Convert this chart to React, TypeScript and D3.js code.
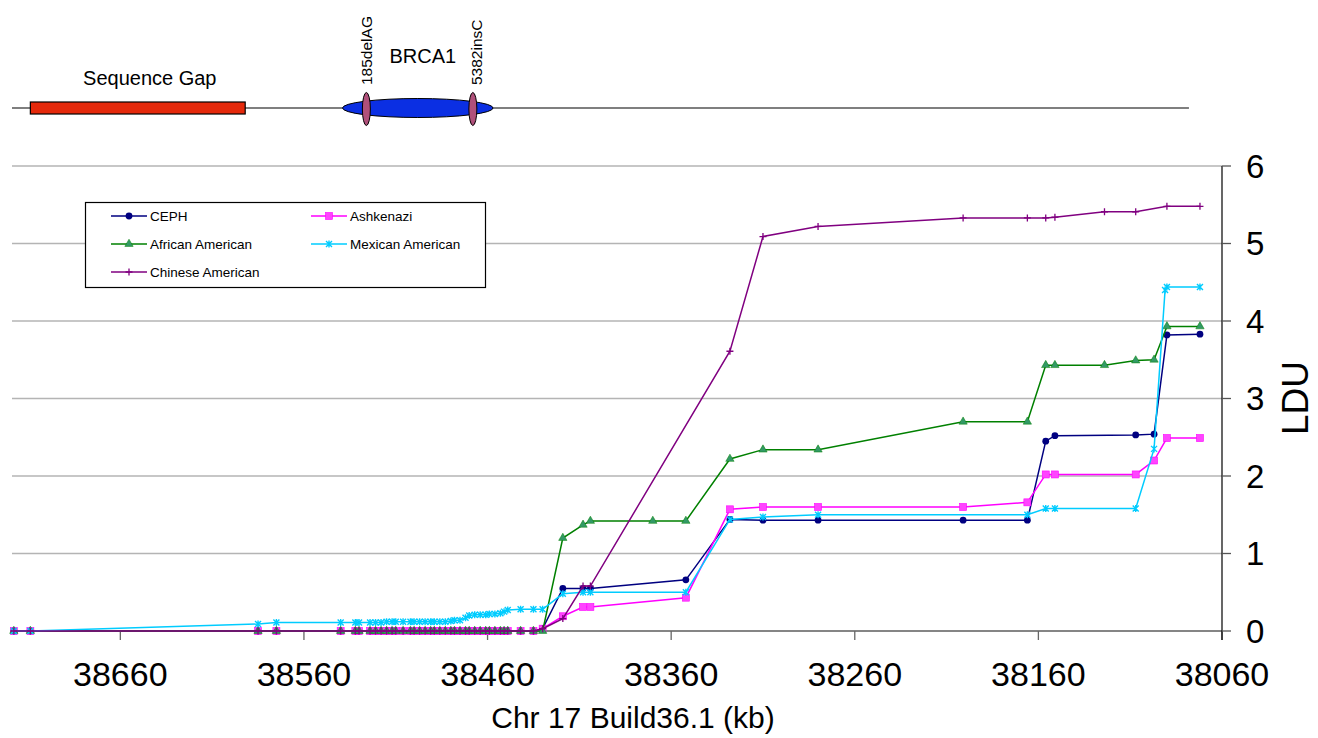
import * as d3 from 'd3';
import { useMemo } from 'react';

const WIDTH = 1318;
const HEIGHT = 738;
const PLOT = { left: 12, right: 1222, top: 166, bottom: 631 };
const FONT = '"Liberation Sans", Arial, Helvetica, sans-serif';

// x axis (kb, reversed) and y axis ticks
const xTicks = [38660, 38560, 38460, 38360, 38260, 38160, 38060];
const yTicks = [0, 1, 2, 3, 4, 5, 6];

// marker positions shared by all populations across the gap / BRCA1 region
const baseKb = [38718, 38709, 38585, 38575, 38540, 38532, 38530, 38524, 38521, 38518, 38515, 38512,
  38510, 38506, 38502, 38500, 38497, 38494, 38491, 38489, 38486, 38483, 38480, 38478, 38475, 38472,
  38470, 38467, 38464, 38461, 38459, 38456, 38453, 38451, 38449, 38442, 38435];
const flatLdu = [0, 0, 0, 0, 0, 0, 0, 0, 0, 0, 0, 0, 0, 0, 0, 0, 0, 0, 0, 0, 0, 0, 0, 0, 0, 0,
  0, 0, 0, 0, 0, 0, 0, 0, 0, 0, 0];
const mexicanBaseLdu = [0, 0, 0.09, 0.11, 0.11, 0.11, 0.11, 0.11, 0.11, 0.11, 0.12, 0.12,
  0.12, 0.12, 0.12, 0.12, 0.12, 0.12, 0.12, 0.12, 0.12, 0.12, 0.13, 0.14, 0.14, 0.17,
  0.20, 0.21, 0.21, 0.21, 0.22, 0.22, 0.23, 0.25, 0.27, 0.28, 0.28];

// per population, distal part
const cephKb = [38430, 38419, 38408, 38404, 38352, 38328, 38310, 38280, 38201, 38166, 38156, 38151, 38107, 38097, 38090, 38072];
const cephLdu = [0.03, 0.55, 0.55, 0.55, 0.66, 1.44, 1.43, 1.43, 1.43, 1.43, 2.45, 2.52, 2.53, 2.54, 3.82, 3.83];

const ashkenaziKb = [38430, 38419, 38408, 38404, 38352, 38328, 38310, 38280, 38201, 38166, 38156, 38151, 38107, 38097, 38090, 38072];
const ashkenaziLdu = [0.03, 0.19, 0.31, 0.31, 0.43, 1.57, 1.60, 1.60, 1.60, 1.66, 2.02, 2.02, 2.02, 2.20, 2.49, 2.49];

const africanKb = [38430, 38419, 38408, 38404, 38370, 38352, 38328, 38310, 38280, 38201, 38166, 38156, 38151, 38124, 38107, 38097, 38090, 38072];
const africanLdu = [0, 1.20, 1.37, 1.42, 1.42, 1.42, 2.22, 2.34, 2.34, 2.70, 2.70, 3.43, 3.43, 3.43, 3.49, 3.50, 3.93, 3.93];

const mexicanKb = [38430, 38419, 38408, 38404, 38352, 38328, 38310, 38280, 38166, 38156, 38151, 38107, 38097, 38091, 38090, 38072];
const mexicanLdu = [0.28, 0.48, 0.50, 0.50, 0.50, 1.44, 1.47, 1.50, 1.50, 1.58, 1.58, 1.58, 2.35, 4.40, 4.44, 4.44];

const chineseKb = [38430, 38419, 38408, 38404, 38328, 38310, 38280, 38201, 38166, 38156, 38151, 38124, 38107, 38090, 38072];
const chineseLdu = [0.03, 0.16, 0.58, 0.58, 3.61, 5.09, 5.22, 5.33, 5.33, 5.33, 5.34, 5.41, 5.41, 5.48, 5.48];

// gene map above the chart (kb)
const mapLineKb = [38719, 38078];
const sequenceGapKb = [38709, 38592];
const brca1Kb = [38539, 38457];
const mutationNames = ['185delAG', '5382insC'];
const mutationKb = [38526, 38468];

type Marker = 'circle' | 'square' | 'triangle' | 'star' | 'plus';
type Series = { name: string; kb: number[]; ldu: number[]; color: string; fill: string; marker: Marker };

const SERIES: Series[] = [
  { name: 'CEPH', kb: [...baseKb, ...cephKb], ldu: [...flatLdu, ...cephLdu], color: '#000080', fill: '#000080', marker: 'circle' },
  { name: 'Ashkenazi', kb: [...baseKb, ...ashkenaziKb], ldu: [...flatLdu, ...ashkenaziLdu], color: '#FF00FF', fill: '#FF44FF', marker: 'square' },
  { name: 'African American', kb: [...baseKb, ...africanKb], ldu: [...flatLdu, ...africanLdu], color: '#008000', fill: '#339966', marker: 'triangle' },
  { name: 'Mexican American', kb: [...baseKb, ...mexicanKb], ldu: [...mexicanBaseLdu, ...mexicanLdu], color: '#00CCFF', fill: '#00CCFF', marker: 'star' },
  { name: 'Chinese American', kb: [...baseKb, ...chineseKb], ldu: [...flatLdu, ...chineseLdu], color: '#800080', fill: '#800080', marker: 'plus' },
];

const LEGEND_POS = [
  { x: 111, y: 216 },
  { x: 311, y: 216 },
  { x: 111, y: 244 },
  { x: 311, y: 244 },
  { x: 111, y: 272 },
];

const drawMarker = (s: Series, x: number, y: number, key: string) => {
  switch (s.marker) {
    case 'circle':
      return <circle key={key} cx={x} cy={y} r={3.4} fill={s.fill} />;
    case 'square':
      return <rect key={key} x={x - 3.5} y={y - 3.5} width={7} height={7} fill={s.fill} stroke={s.color} strokeWidth={0.6} />;
    case 'triangle':
      return (
        <path key={key} transform={`translate(${x},${y})`}
          d={d3.symbol(d3.symbolTriangle, 30)() || ''} fill={s.fill} stroke={s.color} strokeWidth={0.5} />
      );
    case 'star':
      return (
        <path key={key} d={`M${x - 3},${y - 3}L${x + 3},${y + 3}M${x - 3},${y + 3}L${x + 3},${y - 3}M${x},${y - 3.5}L${x},${y + 3.5}`}
          stroke={s.color} strokeWidth={1.4} fill="none" />
      );
    case 'plus':
      return (
        <path key={key} d={`M${x - 3.5},${y}L${x + 3.5},${y}M${x},${y - 3.5}L${x},${y + 3.5}`}
          stroke={s.color} strokeWidth={1.3} fill="none" />
      );
  }
};

export default function App() {
  const xScale = useMemo(() => d3.scaleLinear().domain([38719, 38060]).range([PLOT.left, PLOT.right]), []);
  const yScale = useMemo(() => d3.scaleLinear().domain([0, 6]).range([PLOT.bottom, PLOT.top]), []);

  const line = d3.line<[number, number]>()
    .x(d => xScale(d[0]))
    .y(d => yScale(d[1]));

  const mapY = 108;

  return (
    <div style={{ position: 'absolute', left: 0, top: 0 }}>
      <svg width={WIDTH} height={HEIGHT} style={{ display: 'block', fontFamily: FONT }}>
        <rect width={WIDTH} height={HEIGHT} fill="#ffffff" />

        {/* gene map */}
        <line x1={xScale(mapLineKb[0])} x2={xScale(mapLineKb[1])} y1={mapY} y2={mapY} stroke="#000" strokeWidth={1.2} />
        <rect x={xScale(sequenceGapKb[0])} y={mapY - 6} width={xScale(sequenceGapKb[1]) - xScale(sequenceGapKb[0])} height={12}
          fill="#E5290B" stroke="#000" strokeWidth={1.2} />
        <text x={(xScale(sequenceGapKb[0]) + xScale(sequenceGapKb[1])) / 2 + 12} y={85} textAnchor="middle" fontSize={20}>Sequence Gap</text>
        <ellipse cx={(xScale(brca1Kb[0]) + xScale(brca1Kb[1])) / 2} cy={mapY} rx={(xScale(brca1Kb[1]) - xScale(brca1Kb[0])) / 2} ry={9.5}
          fill="#0B2FE3" stroke="#000" strokeWidth={1} />
        <text x={(xScale(brca1Kb[0]) + xScale(brca1Kb[1])) / 2 + 5} y={63} textAnchor="middle" fontSize={20}>BRCA1</text>
        {mutationKb.map((kb, i) => (
          <g key={mutationNames[i]}>
            <ellipse cx={xScale(kb)} cy={mapY + 1} rx={4} ry={16.5} fill="#B0507A" stroke="#000" strokeWidth={1} />
            <text transform={`translate(${xScale(kb) + 6 + i * 3},${85}) rotate(-90)`} fontSize={15.5}>{mutationNames[i]}</text>
          </g>
        ))}

        {/* grid */}
        {yTicks.filter(t => t > 0).map(t => (
          <line key={`g${t}`} x1={PLOT.left} x2={PLOT.right} y1={yScale(t)} y2={yScale(t)} stroke="#b4b4b4" strokeWidth={1.3} />
        ))}

        {/* axes */}
        <line x1={PLOT.left} x2={PLOT.right} y1={PLOT.bottom} y2={PLOT.bottom} stroke="#858585" strokeWidth={2} />
        {xTicks.map(t => (
          <g key={`x${t}`}>
            <line x1={xScale(t)} x2={xScale(t)} y1={PLOT.bottom} y2={PLOT.bottom + 9} stroke="#666" strokeWidth={1.3} />
            <text x={xScale(t)} y={686} textAnchor="middle" fontSize={34}>{t}</text>
          </g>
        ))}
        <line x1={PLOT.right} x2={PLOT.right} y1={PLOT.top} y2={PLOT.bottom + 9} stroke="#000" strokeWidth={1.2} />
        {yTicks.map(t => (
          <g key={`y${t}`}>
            <line x1={PLOT.right} x2={PLOT.right + 9} y1={yScale(t)} y2={yScale(t)} stroke="#555" strokeWidth={1.3} />
            <text x={1246} y={yScale(t) + 11.5} fontSize={33}>{t}</text>
          </g>
        ))}
        <text transform={`translate(1308,398) rotate(-90)`} textAnchor="middle" fontSize={37}>LDU</text>
        <text x={633} y={728} textAnchor="middle" fontSize={30}>Chr 17 Build36.1 (kb)</text>

        {/* legend */}
        <rect x={85.5} y={202.5} width={400} height={85} fill="#fff" stroke="#000" strokeWidth={1.2} />
        {SERIES.map((s, i) => (
          <g key={`lg${s.name}`}>
            <line x1={LEGEND_POS[i].x} x2={LEGEND_POS[i].x + 36} y1={LEGEND_POS[i].y} y2={LEGEND_POS[i].y} stroke={s.color} strokeWidth={1.5} />
            {drawMarker(s, LEGEND_POS[i].x + 18, LEGEND_POS[i].y, `lm${i}`)}
            <text x={LEGEND_POS[i].x + 39} y={LEGEND_POS[i].y + 5} fontSize={13.5}>{s.name}</text>
          </g>
        ))}

        {/* series */}
        {SERIES.map(s => {
          const pts = s.kb.map((k, i) => [k, s.ldu[i]] as [number, number]);
          return (
            <g key={s.name}>
              <path d={line(pts) || ''} fill="none" stroke={s.color} strokeWidth={1.5} />
              {pts.map((p, i) => drawMarker(s, xScale(p[0]), yScale(p[1]), `${s.name}-${i}`))}
            </g>
          );
        })}
      </svg>
    </div>
  );
}
